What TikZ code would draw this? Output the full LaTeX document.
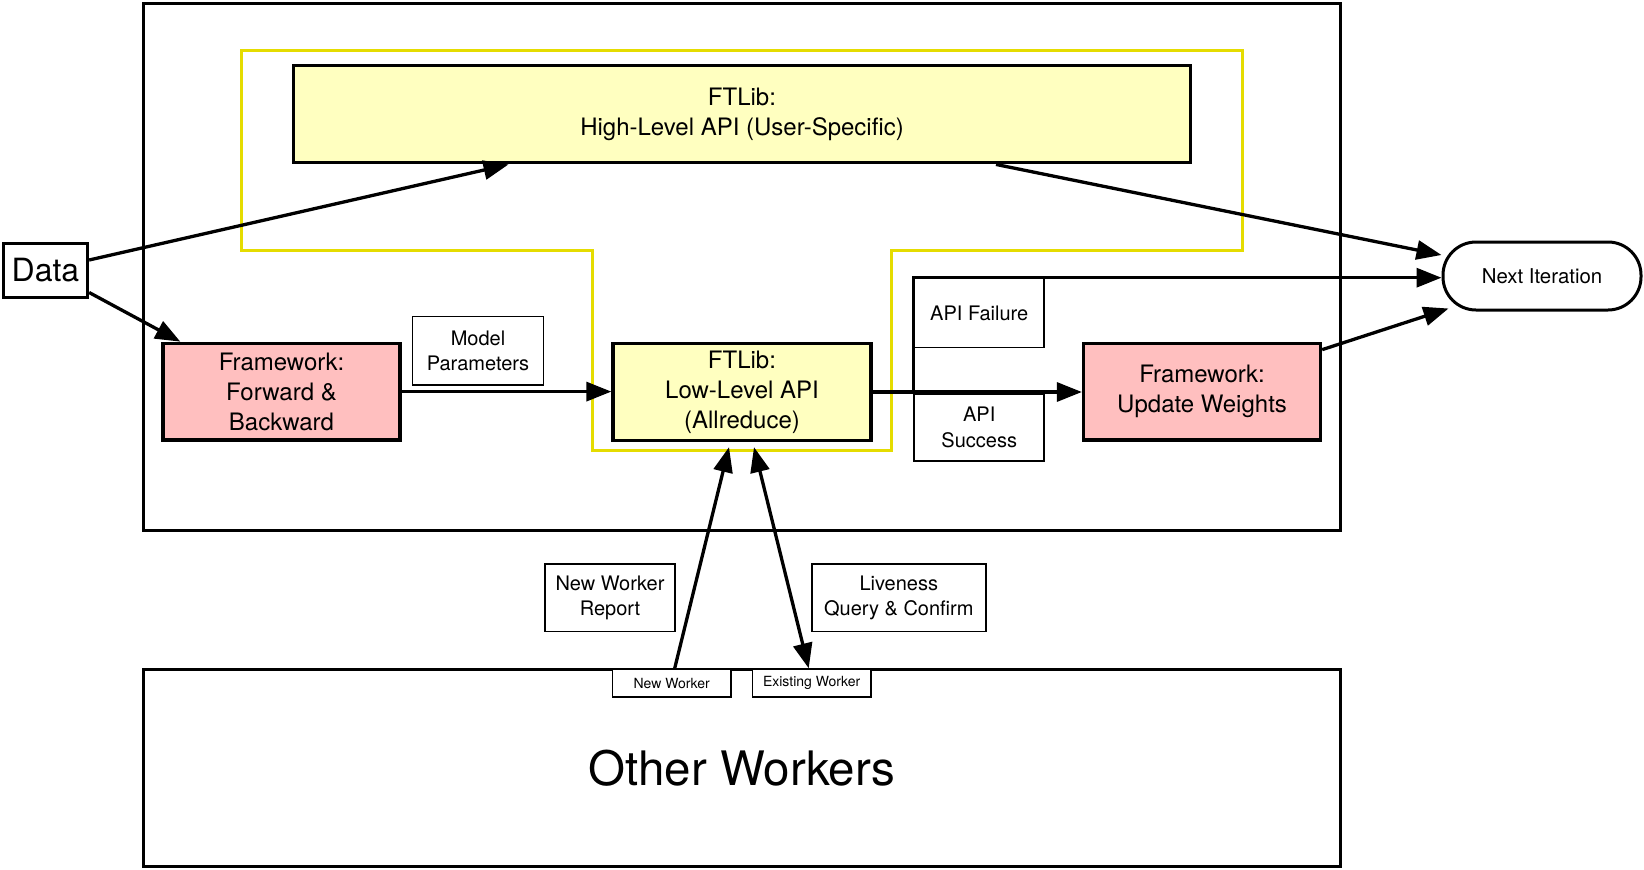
\documentclass[tikz,border=0pt]{standalone}
\usepackage{fontspec}
\setmainfont{TeX Gyre Heros}
\usetikzlibrary{arrows.meta,calc}
\definecolor{lyellow}{HTML}{FFFFC0}
\definecolor{lpink}{HTML}{FFBFBF}
\definecolor{yline}{HTML}{E5DC00}
\begin{document}
\begin{tikzpicture}[x=1pt,y=-1pt,
  thickbox/.style={draw,line width=3.3pt,inner sep=0pt,align=center},
  mainbox/.style={thickbox,font=\fontsize{24}{30}\selectfont},
  lbl/.style={draw,line width=1.6pt,fill=white,inner sep=0pt,align=center,font=\fontsize{20}{25.5}\selectfont},
  small/.style={lbl,font=\fontsize{14}{17}\selectfont},
  conn/.style={line width=3.3pt,-{Triangle[length=25pt,width=19pt]}},
  dconn/.style={line width=3.3pt,{Triangle[length=25pt,width=19pt]}-{Triangle[length=25pt,width=19pt]}},
 ]
\useasboundingbox (0,0) rectangle (1644,870);
% outer boxes
\node[thickbox,minimum width=1197pt,minimum height=527pt] (outer) at (741.75,267.3) {};
\node[thickbox,minimum width=1197pt,minimum height=197pt,font=\fontsize{47.5}{52}\selectfont] (others) at (741.75,768) {Other Workers};
% yellow outline
\draw[yline,line width=3.5pt] (241.7,50.7) -- (1242.5,50.7) -- (1242.5,250.7) -- (891.7,250.7) -- (891.7,450.7) -- (592.4,450.7) -- (592.4,250.7) -- (241.7,250.7) -- cycle;
% main nodes
\node[mainbox,fill=lyellow,minimum width=897pt,minimum height=97pt] (high) at (742,114.3) {FTLib:\\High-Level API (User-Specific)};
\node[thickbox,font=\fontsize{32}{36}\selectfont,minimum width=84pt,minimum height=54pt] (data) at (45.5,270.5) {Data};
\node[mainbox,fill=lpink,minimum width=237pt,minimum height=96.6pt] (fwd) at (281.5,391.6) {Framework:\\Forward \&\\Backward};
\node[mainbox,fill=lyellow,minimum width=258pt,minimum height=97pt] (low) at (742,392) {FTLib:\\Low-Level API\\(Allreduce)};
\node[mainbox,fill=lpink,minimum width=237pt,minimum height=96.6pt] (upd) at (1202,391.6) {Framework:\\Update Weights};
\node[draw,line width=3pt,rounded corners=33pt,inner sep=0pt,minimum width=198pt,minimum height=68pt,font=\fontsize{20.4}{24}\selectfont] (next) at (1542,276) {Next Iteration};
% labels
\node[lbl,minimum width=131pt,minimum height=68.5pt] (mp) at (478,350.7) {Model\\Parameters};
\node[lbl,minimum width=130pt,minimum height=69pt] (fail) at (979.2,313) {API Failure};
\node[lbl,minimum width=130pt,minimum height=67pt] (succ) at (979.2,427.5) {API\\Success};
\node[lbl,minimum width=130.5pt,minimum height=67.4pt] (nwr) at (610,597.8) {New Worker\\Report};
\node[lbl,minimum width=174pt,minimum height=67.4pt] (live) at (898.8,597.8) {Liveness\\Query \& Confirm};
\node[small,minimum width=118.4pt,minimum height=27.8pt] (nw) at (671.7,683) {New Worker};
\node[small,minimum width=118.4pt,minimum height=27.8pt] (ew) at (811.7,683) {Existing Worker};
% connectors
\draw[conn] ([yshift=10.5pt]data.east) -- ([xshift=-233.5pt]high.south);
\draw[conn] ([yshift=-22pt]data.east) -- ([xshift=19pt]fwd.north west);
\draw[conn] (fwd.east) -- (fwd.east -| low.west);
\draw[conn] (low.east) -- (low.east -| upd.west);
\draw[conn] (low.east) -- (low.east -| fail.west) -- (fail.north west) -- (fail.north west -| next.west);
\draw[conn] ([xshift=254pt]high.south) -- ([yshift=21pt]next.west);
\draw[conn] ([yshift=-8pt]upd.north east) -- ([xshift=7pt,yshift=3pt]next.south west);
\draw[conn] ([xshift=3pt]nw.north) -- ([xshift=-13pt,yshift=-5pt]low.south);
\draw[dconn] ([xshift=12pt,yshift=-5pt]low.south) -- ([xshift=-3pt]ew.north);
\end{tikzpicture}
\end{document}
